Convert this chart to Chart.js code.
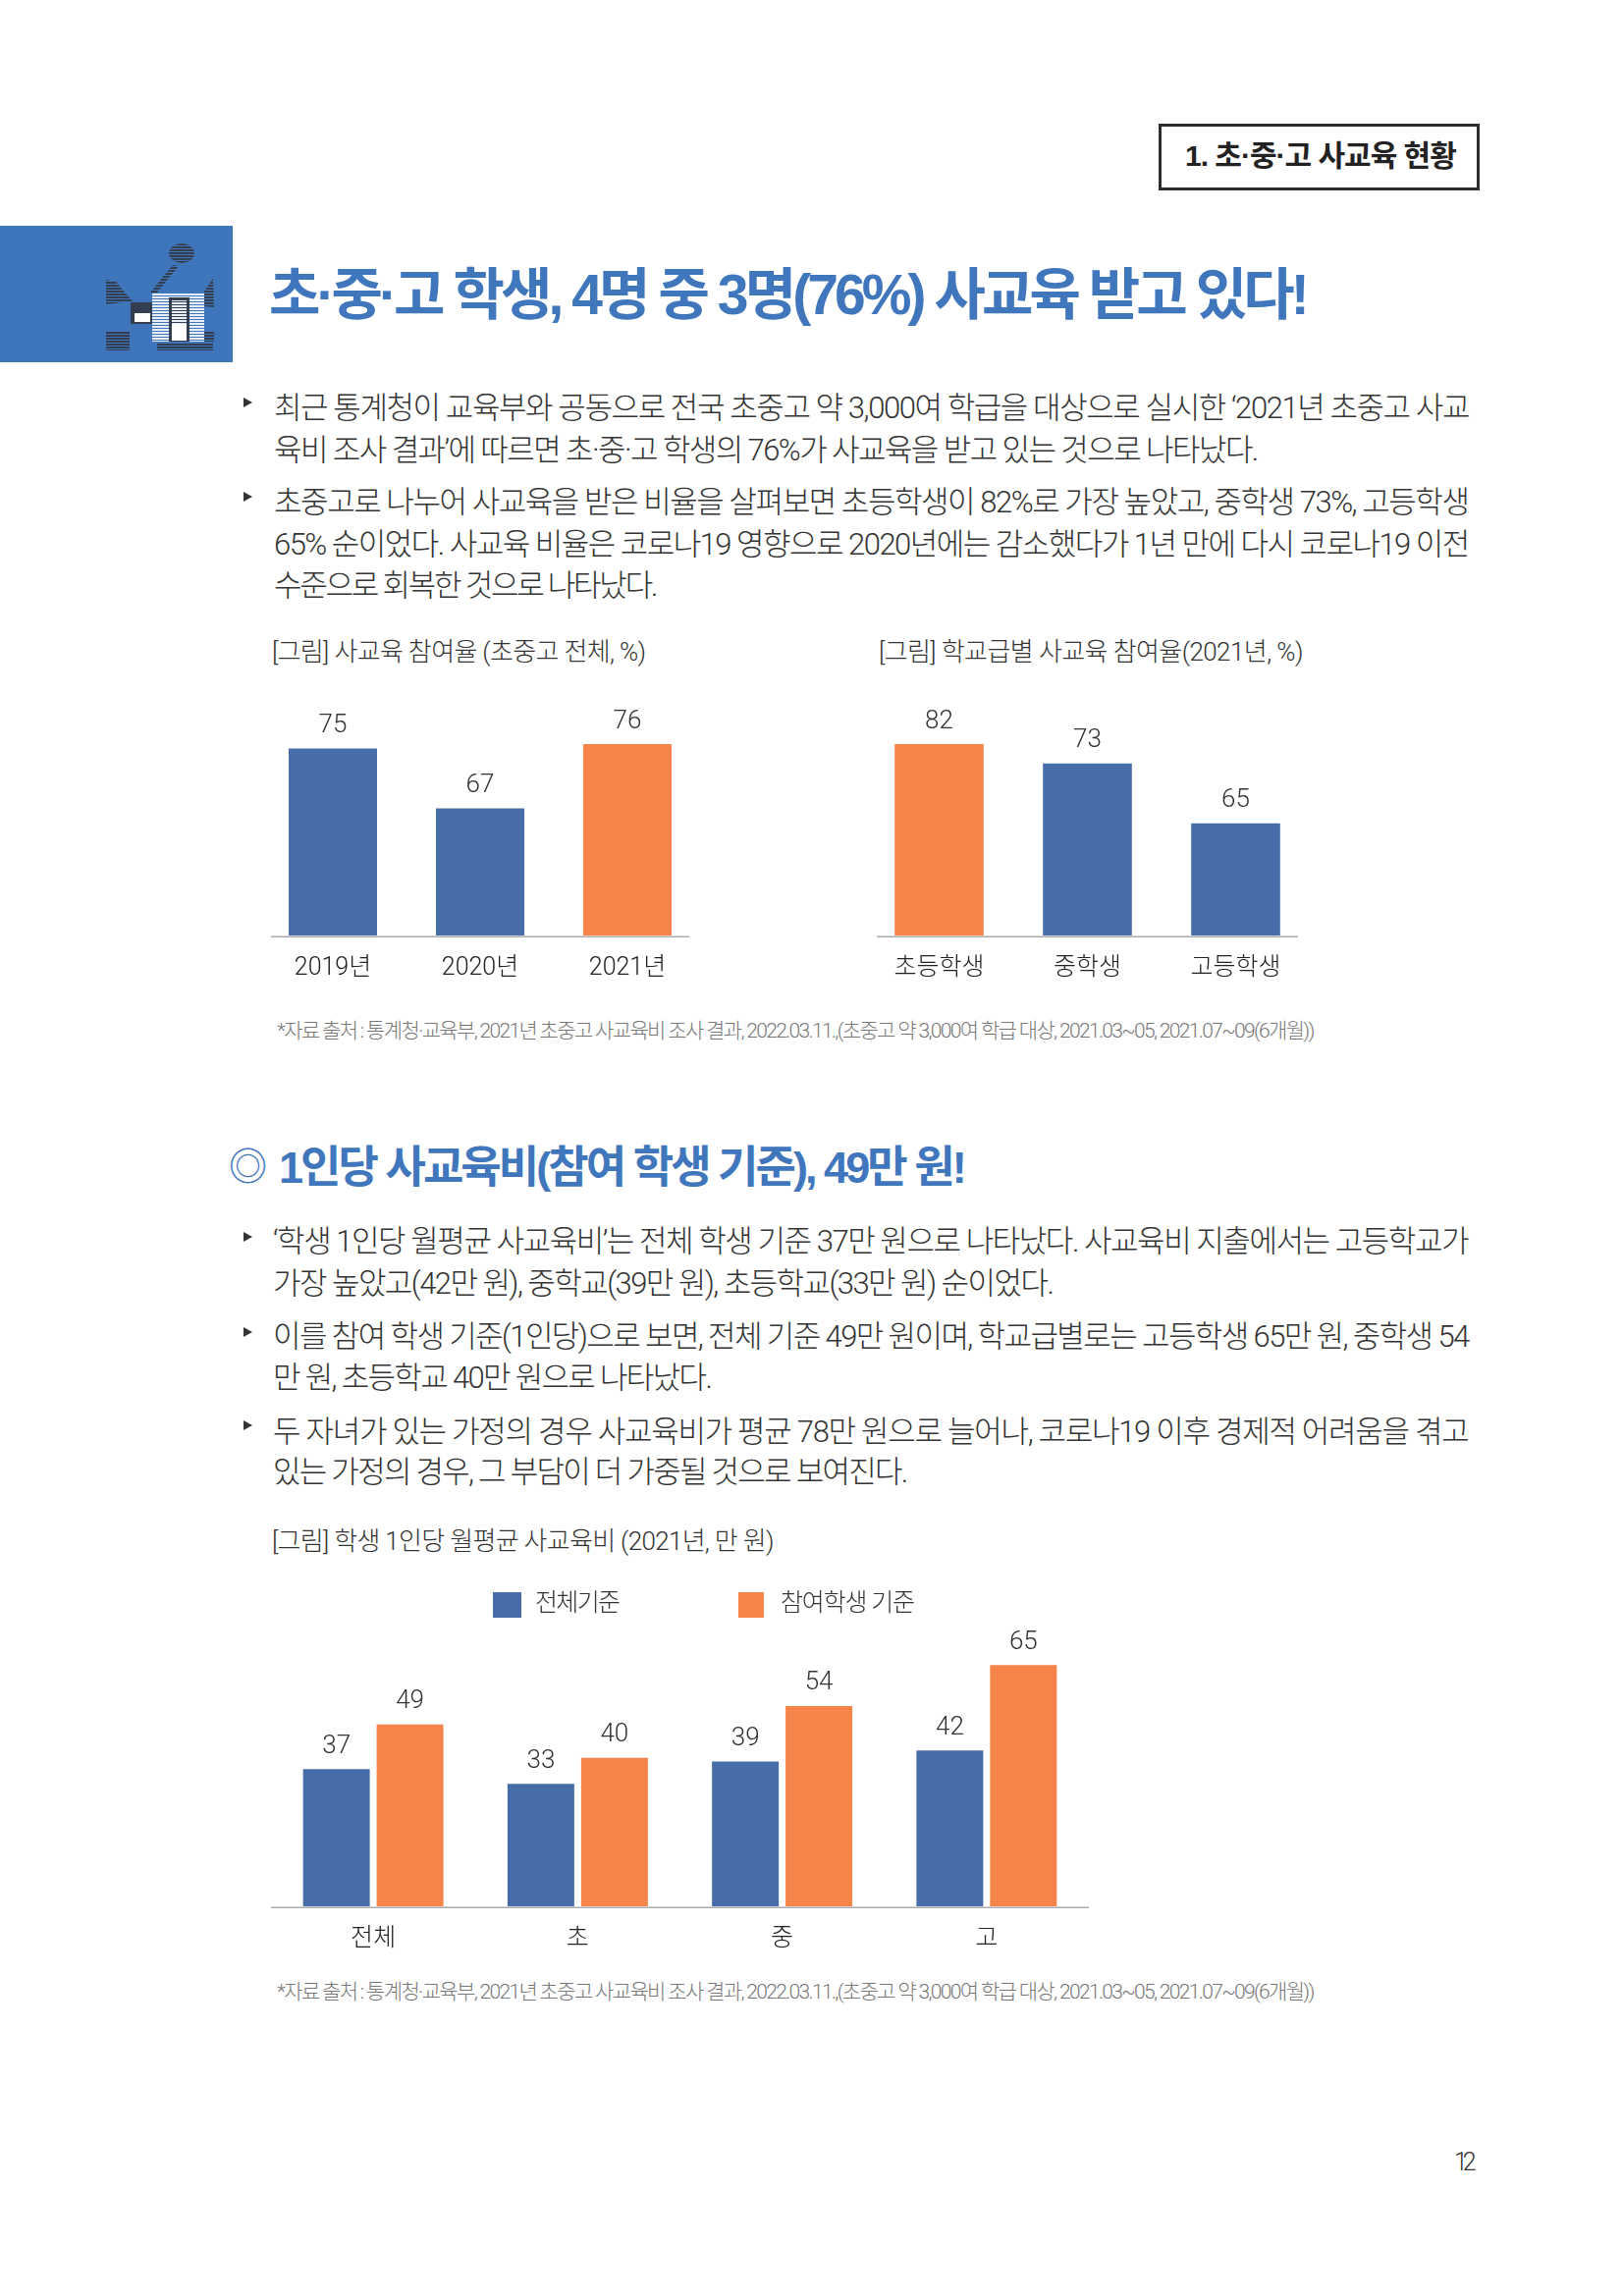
<!DOCTYPE html>
<html lang="ko">
<head>
<meta charset="utf-8">
<title>초·중·고 사교육 현황</title>
<script src="https://cdn.jsdelivr.net/npm/chart.js@4/dist/chart.umd.min.js"></script>
<style>
    html, body { margin: 0; padding: 0; background: #fff; }
    body { position: relative; width: 1653px; height: 2339px; overflow: hidden; font-family: "Liberation Sans", "Noto Sans CJK KR", sans-serif; }
    .txt { position: absolute; white-space: pre; line-height: 1; color: #333; }
    .thin { font-family: Roboto, "Noto Sans CJK KR", sans-serif; }
    canvas { position: absolute; }
    #frame { position: absolute; left: 1180px; top: 126px; width: 321px; height: 62px; border: 3px solid #2e2e2e; }
    #banner { position: absolute; left: 0; top: 230px; width: 237px; height: 139px; }
    .swatch { position: absolute; top: 1622px; height: 26px; }
    .bullet { position: absolute; left: 248px; width: 0; height: 0; border-left: 9px solid #333; border-top: 5px solid transparent; border-bottom: 5px solid transparent; }
</style>
</head>
<body>
<div id="frame"></div>
<svg id="banner" viewBox="0 0 237 139">
    <defs>
        <pattern id="dark" width="3" height="3" patternUnits="userSpaceOnUse"><rect width="3" height="2" fill="#333f50"/></pattern>
        <pattern id="light" width="3" height="3" patternUnits="userSpaceOnUse"><rect width="3" height="2" fill="#e8eef7"/></pattern>
    </defs>
    <rect width="237" height="139" fill="#3f76bb"/>
    <ellipse cx="185" cy="28" rx="13" ry="10" fill="url(#dark)"/>
    <polygon points="176,40 182,41 160,68 153,68" fill="url(#dark)"/>
    <polygon points="108,55 118,57 135,77 108,80" fill="url(#dark)"/>
    <polygon points="217,53 218,83 208,82 208,67" fill="url(#dark)"/>
    <rect x="133" y="78" width="22" height="22" fill="#333f50"/>
    <rect x="137" y="89" width="16" height="9" fill="#fff"/>
    <rect x="155" y="68" width="53" height="50" fill="url(#light)"/>
    <rect x="172" y="73" width="21" height="45" fill="#333f50"/>
    <rect x="175" y="76" width="15" height="41" fill="url(#light)"/>
    <rect x="175" y="100" width="15" height="17" fill="#fff"/>
    <rect x="108" y="107" width="24" height="20" fill="url(#dark)"/>
    <rect x="160" y="119" width="57" height="8" fill="url(#dark)"/>
    <rect x="208" y="107" width="10" height="11" fill="url(#dark)"/>
</svg>
<canvas id="rateYearChart" width="450" height="310" style="left:264px;top:700px"></canvas>
<canvas id="rateSchoolChart" width="453" height="310" style="left:881px;top:700px"></canvas>
<canvas id="costChart" width="833" height="360" style="left:276px;top:1640px"></canvas>
<div class="swatch" style="left:502px;width:29px;background:#466da7"></div>
<div class="swatch" style="left:752px;width:26px;background:#f5844a"></div>
<script>
// chart data
const yearLabels = ["2019년", "2020년", "2021년"];
const yearRates = [75, 67, 76];
const schoolLabels = ["초등학생", "중학생", "고등학생"];
const schoolRates = [82, 73, 65];
const costLabels = ["전체", "초", "중", "고"];
const costAllStudents = [37, 33, 39, 42];
const costParticipants = [49, 40, 54, 65];
const costSeriesNames = ["전체기준", "참여학생 기준"];

const BLUE = "#466da7";
const ORANGE = "#f5844a";
const THIN_FONT = 'Roboto, "Noto Sans CJK KR", sans-serif';
const BODY = "#333";

// page text: text, left, middle y, font size, right end (letter spacing is fitted to it), colour, weight
const pageTexts = [
    ["1. 초·중·고 사교육 현황", 1207, 159, 30, 1484, "#222", 700],
    ["초·중·고 학생, 4명 중 3명(76%) 사교육 받고 있다!", 274, 300, 57, 1334, "#3f76bc", 700],
    ["최근 통계청이 교육부와 공동으로 전국 초중고 약 3,000여 학급을 대상으로 실시한 ‘2021년 초중고 사교", 279, 415.5, 31, 1497],
    ["육비 조사 결과’에 따르면 초·중·고 학생의 76%가 사교육을 받고 있는 것으로 나타났다.", 279, 458, 31, 1282],
    ["초중고로 나누어 사교육을 받은 비율을 살펴보면 초등학생이 82%로 가장 높았고, 중학생 73%, 고등학생", 279, 511, 31, 1497],
    ["65% 순이었다. 사교육 비율은 코로나19 영향으로 2020년에는 감소했다가 1년 만에 다시 코로나19 이전", 279, 554, 31, 1497],
    ["수준으로 회복한 것으로 나타났다.", 279, 596.5, 31, 670],
    ["[그림] 사교육 참여율 (초중고 전체, %)", 277, 664, 26, 658],
    ["[그림] 학교급별 사교육 참여율(2021년, %)", 895, 664, 26, 1327],
    ["*자료 출처 : 통계청·교육부, 2021년 초중고 사교육비 조사 결과, 2022.03.11.,(초중고 약 3,000여 학급 대상, 2021.03~05, 2021.07~09(6개월))", 282, 1050, 21, 1339, "#777"],
    ["◎", 233, 1189, 39, 0, "#3f76bc", 400],
    ["1인당 사교육비(참여 학생 기준), 49만 원!", 284, 1189, 45, 985, "#3f76bc", 700],
    ["‘학생 1인당 월평균 사교육비’는 전체 학생 기준 37만 원으로 나타났다. 사교육비 지출에서는 고등학교가", 278, 1264, 31, 1497],
    ["가장 높았고(42만 원), 중학교(39만 원), 초등학교(33만 원) 순이었다.", 278, 1307, 31, 1074],
    ["이를 참여 학생 기준(1인당)으로 보면, 전체 기준 49만 원이며, 학교급별로는 고등학생 65만 원, 중학생 54", 278, 1361, 31, 1497],
    ["만 원, 초등학교 40만 원으로 나타났다.", 278, 1403, 31, 726],
    ["두 자녀가 있는 가정의 경우 사교육비가 평균 78만 원으로 늘어나, 코로나19 이후 경제적 어려움을 겪고", 278, 1458, 31, 1497],
    ["있는 가정의 경우, 그 부담이 더 가중될 것으로 보여진다.", 278, 1499, 31, 925],
    ["[그림] 학생 1인당 월평균 사교육비 (2021년, 만 원)", 277, 1570, 26, 788],
    [costSeriesNames[0], 545, 1632, 25, 632],
    [costSeriesNames[1], 795, 1632, 25, 932],
    ["*자료 출처 : 통계청·교육부, 2021년 초중고 사교육비 조사 결과, 2022.03.11.,(초중고 약 3,000여 학급 대상, 2021.03~05, 2021.07~09(6개월))", 282, 2029, 21, 1339, "#777"],
    ["12", 1481, 2202, 25, 1504]
];
const bulletRows = [410, 506, 1260, 1357, 1452];

pageTexts.forEach(([text, x, y, size, right, color, weight]) => {
    const el = document.createElement("div");
    el.className = weight === 700 ? "txt" : "txt thin";
    el.textContent = text;
    el.style.cssText = `left:${x}px;top:${y - size / 2}px;font-size:${size}px;font-weight:${weight || 300};color:${color || BODY}`;
    document.body.appendChild(el);
    if (right) el.style.letterSpacing = ((right - x - el.offsetWidth) / (text.length - 1)) + "px";
});
bulletRows.forEach(y => {
    const el = document.createElement("div");
    el.className = "bullet";
    el.style.top = (y - 5) + "px";
    document.body.appendChild(el);
});

// value labels over the bars + the grey base line
const barExtras = {
    id: "barExtras",
    afterDatasetsDraw(chart, args, opts) {
        const { ctx, chartArea } = chart;
        ctx.save();
        ctx.strokeStyle = "#aaa";
        ctx.lineWidth = 1.5;
        ctx.beginPath();
        ctx.moveTo(chartArea.left + opts.inset, chartArea.bottom + 1.2);
        ctx.lineTo(chartArea.right - opts.inset, chartArea.bottom + 1.2);
        ctx.stroke();
        ctx.fillStyle = "#333";
        ctx.font = "300 26px " + THIN_FONT;
        ctx.textAlign = "center";
        ctx.textBaseline = "middle";
        chart.data.datasets.forEach((ds, i) => {
            chart.getDatasetMeta(i).data.forEach((bar, j) => {
                // bars over the axis max are cut at the top of the plot
                const top = Math.max(bar.y, chartArea.top);
                ctx.fillText(ds.data[j], bar.x, top - 23);
            });
        });
        ctx.restore();
    }
};

function makeChart(id, labels, datasets, o) {
    return new Chart(document.getElementById(id), {
        type: "bar",
        data: { labels, datasets },
        plugins: [barExtras],
        options: {
            responsive: false,
            animation: false,
            devicePixelRatio: 1,
            layout: { padding: { top: o.padTop } },
            datasets: { bar: { categoryPercentage: o.catPct, barPercentage: o.barPct } },
            plugins: {
                legend: { display: false },
                title: { display: false },
                tooltip: { enabled: false },
                barExtras: { inset: o.inset }
            },
            scales: {
                x: {
                    grid: { display: false },
                    border: { display: false },
                    ticks: { color: "#222", font: { size: 25, weight: 300, family: THIN_FONT }, padding: 11, maxRotation: 0 },
                    afterFit: s => { s.height = o.axisH; }
                },
                y: { display: false, min: o.min, max: o.max }
            }
        }
    });
}

makeChart("rateYearChart", yearLabels,
    [{ data: yearRates, backgroundColor: [BLUE, BLUE, ORANGE] }],
    { padTop: 58, axisH: 57, catPct: 1, barPct: 0.6, inset: 12, min: 50, max: 75.6 });
makeChart("rateSchoolChart", schoolLabels,
    [{ data: schoolRates, backgroundColor: [ORANGE, BLUE, BLUE] }],
    { padTop: 58, axisH: 57, catPct: 1, barPct: 0.6, inset: 12, min: 50, max: 75.6 });
makeChart("costChart", costLabels,
    [
        { label: costSeriesNames[0], data: costAllStudents, backgroundColor: BLUE },
        { label: costSeriesNames[1], data: costParticipants, backgroundColor: ORANGE }
    ],
    { padTop: 37.4, axisH: 58, catPct: 0.72, barPct: 0.907, inset: 0, min: 0, max: 70 });
</script>
</body>
</html>
